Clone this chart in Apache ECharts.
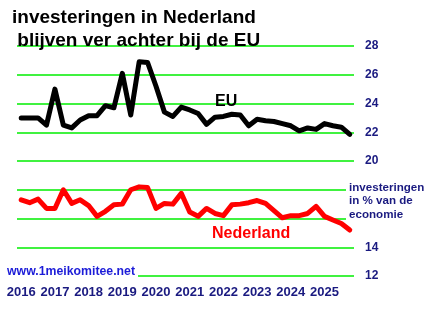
<!DOCTYPE html>
<html style="height: 100%">
<head>
  <meta charset="utf-8">
</head>
<body style="height: 100%; margin: 0; background: #fff">
  <div id="container" style="width: 431px; height: 313px"></div>
  <script src="https://cdn.jsdelivr.net/npm/echarts@6/dist/echarts.min.js"></script>
  <script>
    // jaren op de as, per kwartaal een punt
    var years = ['2016', '2017', '2018', '2019', '2020', '2021', '2022', '2023', '2024', '2025'];
    var quarters = [];
    years.forEach(function (y) {
      for (var q = 1; q <= 4; q++) quarters.push(y + ' K' + q);
    });

    // investeringen in % van het bbp
    var eu = [23.0, 23.0, 23.0, 22.5, 25.0, 22.5, 22.3, 22.85, 23.15, 23.15,
              23.85, 23.7, 26.1, 23.2, 26.9, 26.85, 25.2, 23.4, 23.1, 23.75,
              23.55, 23.3, 22.55, 23.05, 23.1, 23.25, 23.2, 22.45, 22.9, 22.8,
              22.75, 22.6, 22.45, 22.1, 22.3, 22.2, 22.6, 22.45, 22.35, 21.85];
    var nederland = [17.3, 17.1, 17.35, 16.7, 16.7, 18.0, 17.05, 17.3, 16.9, 16.15,
                     16.5, 16.95, 17.0, 18.0, 18.2, 18.15, 16.7, 17.05, 17.0, 17.75,
                     16.45, 16.15, 16.7, 16.35, 16.2, 16.95, 17.0, 17.1, 17.25, 17.05,
                     16.55, 16.05, 16.2, 16.2, 16.35, 16.85, 16.15, 15.9, 15.65, 15.2];

    var navy = '#1a1a80';
    var font = 'Liberation Sans, Arial, sans-serif';

    var myChart = echarts.init(document.getElementById('container'));
    var option = {
      animation: false,
      backgroundColor: '#fff',
      title: {
        text: 'investeringen in Nederland\n blijven ver achter bij de EU',
        left: 12, top: 6, padding: 0,
        textStyle: { fontFamily: font, fontSize: 19, fontWeight: 'bold', color: '#000', lineHeight: 23 }
      },
      grid: { left: 17, width: 337, top: 46, bottom: 37 },
      xAxis: {
        type: 'category',
        data: quarters,
        boundaryGap: true,
        axisLine: { show: false },
        axisTick: { show: false },
        splitLine: { show: false },
        axisLabel: {
          interval: 3,
          margin: 10,
          color: navy,
          fontFamily: font,
          fontSize: 13,
          fontWeight: 'bold',
          formatter: function (v) { return v.slice(0, 4); }
        }
      },
      yAxis: {
        type: 'value',
        position: 'right',
        min: 12, max: 28, interval: 2,
        axisLine: { show: false },
        axisTick: { show: false },
        splitLine: { lineStyle: { color: '#00ee00', width: 1.5 } },
        axisLabel: {
          margin: 11,
          color: navy,
          fontFamily: font,
          fontSize: 12,
          fontWeight: 'bold',
          formatter: function (v) { return (v === 16 || v === 18) ? '' : v; }
        }
      },
      series: [
        {
          name: 'EU', type: 'line', data: eu, symbol: 'none', z: 3,
          lineStyle: { color: '#000', width: 5, join: 'round', cap: 'round' }
        },
        {
          name: 'Nederland', type: 'line', data: nederland, symbol: 'none', z: 3,
          lineStyle: { color: '#ff0000', width: 5, join: 'round', cap: 'round' }
        }
      ],
      graphic: [
        {
          type: 'text', left: 215, top: 94, z: 10,
          style: { text: 'EU', font: 'bold 16px ' + font, fill: '#000' }
        },
        {
          type: 'text', left: 212, top: 226, z: 10,
          style: { text: 'Nederland', font: 'bold 16px ' + font, fill: '#ff0000' }
        },
        {
          type: 'text', left: 346, top: 181, z: 10,
          style: {
            text: 'investeringen\nin % van de\neconomie',
            font: 'bold 11.6px ' + font, fill: navy, lineHeight: 13.5,
            backgroundColor: '#fff', padding: [0, 2, 0, 3]
          }
        },
        {
          type: 'text', left: 6, top: 266, z: 10,
          style: {
            text: 'www.1meikomitee.net',
            font: 'bold 12.3px ' + font, fill: '#1c1cd8',
            backgroundColor: '#fff', padding: [0, 3, 0, 1]
          }
        }
      ]
    };
    myChart.setOption(option);
  </script>
</body>
</html>
